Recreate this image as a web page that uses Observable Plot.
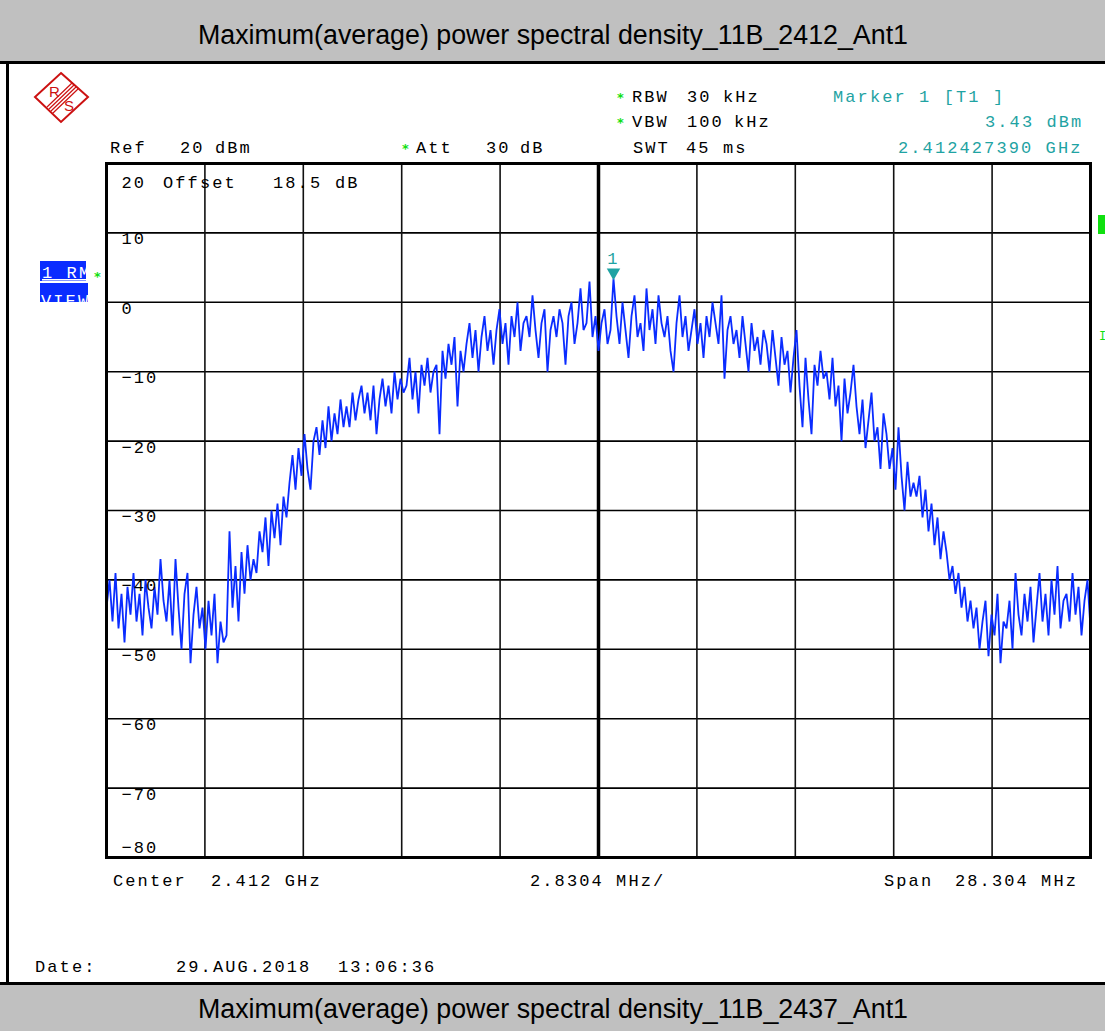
<!DOCTYPE html>
<html>
<head>
<meta charset="utf-8">
<script src="https://cdn.jsdelivr.net/npm/d3@7"></script>
<script src="https://cdn.jsdelivr.net/npm/@observablehq/plot@0.6"></script>
<style>
  html, body { margin: 0; padding: 0; background: #fff; }
  #page { position: relative; width: 1105px; height: 1031px; overflow: hidden; background: #fff; }
  #page > svg { position: absolute; left: 0; top: 0; }
  .rs text { letter-spacing: 2.1px; }
  .mono { font-family: "Liberation Mono", "DejaVu Sans Mono", monospace; font-size: 17px; letter-spacing: 2.1px; white-space: pre; }
  .ttl { font-family: "Liberation Sans", Arial, sans-serif; font-size: 26.8px; }
</style>
</head>
<body>
<div id="page"></div>
<script>
// ---------------- data ----------------
const titleTop = "Maximum(average) power spectral density_11B_2412_Ant1";
const titleBottom = "Maximum(average) power spectral density_11B_2437_Ant1";

const centerGHz = 2.412;
const spanGHz = 0.028304;
const startGHz = 2.397848;
const stopGHz = 2.426152;

// vertical divisions (GHz), one per 2.8304 MHz
const xGrid = [2.397848, 2.4006784, 2.4035088, 2.4063392, 2.4091696, 2.412,
               2.4148304, 2.4176608, 2.4204912, 2.4233216, 2.426152];
// level divisions (dBm)
const yGrid = [20, 10, 0, -10, -20, -30, -40, -50, -60, -70, -80];
const yLabelsMid = [10, 0, -10, -20, -30, -40, -50, -60, -70];
const yLabelTop = [20];
const yLabelBottom = [-80];

const trace = [
  -44, -40, -46, -39, -47, -42, -49, -41, -45, -39,
  -46, -42, -48, -40, -44, -47, -41, -45, -37, -43,
  -46, -40, -48, -37, -44, -50, -42, -39, -52, -45,
  -41, -47, -44, -50, -43, -48, -42, -52, -46, -49,
  -48, -33, -44, -38, -46, -36, -42, -35, -40, -37,
  -39, -33, -36, -31, -38, -30, -34, -29, -35, -28,
  -31, -26, -22, -27, -21, -25, -19, -24, -27, -20,
  -18, -22, -17, -21, -15, -20, -16, -19, -14, -18,
  -15, -18, -13, -17, -14, -12, -16, -13, -17, -12,
  -19, -14, -11, -15, -12, -16, -10, -14, -11, -13,
  -12, -8, -14, -10, -16, -9, -12, -8, -13, -10,
  -9, -19, -7, -11, -6, -9, -5, -15, -7, -10,
  -6, -3, -8, -4, -10, -5, -2, -7, -4, -9,
  -4, -1, -6, -3, -9, -2, -5, 0, -7, -3,
  -2, -5, 1, -4, -8, -3, -1, -10, -4, -2,
  -5, -1, -3, -9, -2, 0, -6, -3, 2, -4,
  -3, 3, -5, -2, -7, -3, -1, -6, -4, 3.43,
  -2, -6, 0, -4, -8, -2, 1, -5, -3, -7,
  2, -4, -1, -6, 1, -3, -5, -2, -7, -10,
  -3, 1, -5, -2, -7, -4, -1, -6, -3, -8,
  -2, -5, 0, -3, -6, 1, -11, -4, -2, -6,
  -4, -8, -2, -6, -10, -3, -7, -5, -9, -4,
  -6, -10, -4, -8, -12, -5, -9, -7, -13, -8,
  -4, -12, -18, -8, -14, -19, -9, -12, -7, -11,
  -10, -14, -8, -15, -12, -20, -11, -16, -13, -9,
  -15, -19, -14, -21, -17, -13, -20, -18, -24, -16,
  -19, -24, -21, -27, -18, -25, -30, -23, -28, -26,
  -28, -25, -31, -27, -33, -29, -35, -31, -37, -33,
  -36, -40, -38, -42, -39, -44, -41, -46, -43, -47,
  -44, -50, -46, -43, -51, -45, -48, -42, -52, -46,
  -47, -43, -50, -39, -45, -48, -42, -46, -41, -49,
  -44, -39, -46, -42, -48, -40, -45, -38, -47, -43,
  -42, -46, -39, -45, -41, -48, -43, -40, -47
];

const markerLabel = "1";

// ---------------- build ----------------
const step = (stopGHz - startGHz) / (trace.length - 1);
const sweep = trace.map((level, i) => ({f: startGHz + i * step, level}));
const peak = sweep.reduce((a, b) => (b.level > a.level ? b : a));

const BLUE = "#0a2cff";
const TEAL = "#1fa3a3";
const GREEN = "#10e010";

const axisOpts = {anchor: "left", tickSize: 0, textAnchor: "start", dx: 24, fill: "#000", label: null};

const chart = Plot.plot({
  width: 1105,
  height: 1031,
  marginLeft: 106,
  marginRight: 15,
  marginTop: 163,
  marginBottom: 174,
  className: "rs",
  style: {background: "transparent", fontFamily: "'Liberation Mono', monospace", fontSize: "17px", color: "#000", overflow: "visible"},
  x: {domain: [startGHz, stopGHz], axis: null},
  y: {domain: [-80, 20], axis: null},
  marks: [
    Plot.gridY(yGrid, {stroke: "#000", strokeOpacity: 1, strokeWidth: 1.6}),
    Plot.gridX(xGrid, {stroke: "#111", strokeOpacity: 1, strokeWidth: 1.6}),
    Plot.gridX([centerGHz], {stroke: "#000", strokeOpacity: 1, strokeWidth: 3.5}),
    Plot.line(sweep, {x: "f", y: "level", stroke: BLUE, strokeWidth: 1.8, strokeLinejoin: "miter"}),
    Plot.axisY(yLabelsMid, {...axisOpts, dy: 6}),
    Plot.axisY(yLabelTop, {...axisOpts, dy: 19}),
    Plot.axisY(yLabelBottom, {...axisOpts, dy: -9.5}),
    Plot.frame({stroke: "#000", strokeWidth: 3}),
    Plot.dot([peak], {x: "f", y: "level", symbol: "triangle", rotate: 180, r: 5, fill: TEAL, stroke: null, dy: -6}),
    Plot.text([peak], {x: "f", y: "level", text: () => markerLabel, fill: TEAL, dy: -20, fontSize: 17})
  ]
});

const page = document.getElementById("page");

// background panel (bands, borders)
const bg = d3.create("svg").attr("width", 1105).attr("height", 1031);
bg.append("rect").attr("x", 0).attr("y", 0).attr("width", 1105).attr("height", 61).attr("fill", "#c0c0c0");
bg.append("rect").attr("x", 0).attr("y", 61).attr("width", 1105).attr("height", 3).attr("fill", "#000");
bg.append("rect").attr("x", 0).attr("y", 985).attr("width", 1105).attr("height", 46).attr("fill", "#c0c0c0");
bg.append("rect").attr("x", 0).attr("y", 982).attr("width", 1105).attr("height", 3).attr("fill", "#000");
bg.append("rect").attr("x", 6).attr("y", 64).attr("width", 3).attr("height", 918).attr("fill", "#000");
bg.append("text").attr("class", "ttl").attr("x", 553).attr("y", 44).attr("text-anchor", "middle").text(titleTop);
bg.append("text").attr("class", "ttl").attr("x", 553).attr("y", 1018).attr("text-anchor", "middle").text(titleBottom);
page.appendChild(bg.node());

page.appendChild(chart);

// overlay annotations
const ov = d3.create("svg").attr("width", 1105).attr("height", 1031);
// R&S logo
const logo = ov.append("g").attr("fill", "none").attr("stroke", "#cc1111");
logo.append("path").attr("d", "M61,73 L88,97 L61,122 L35,97 Z").attr("stroke-width", 2);
[-2, 0, 2, 4].forEach(o => {
  logo.append("line").attr("x1", 74 + o).attr("y1", 85 + o).attr("x2", 49 + o).attr("y2", 109 + o).attr("stroke-width", 1.2);
});
ov.append("text").attr("x", 49).attr("y", 97).attr("fill", "#cc1111").attr("font-family", "Liberation Sans, sans-serif").attr("font-size", 15).text("R");
ov.append("text").attr("x", 64).attr("y", 111).attr("fill", "#cc1111").attr("font-family", "Liberation Sans, sans-serif").attr("font-size", 15).text("S");

function mono(x, y, s, fill = "#000", opts = {}) {
  const t = ov.append("text").attr("class", "mono").attr("x", x).attr("y", y).attr("fill", fill).text(s);
  if (opts.anchor) t.attr("text-anchor", opts.anchor);
  if (opts.clip) t.attr("clip-path", opts.clip);
  return t;
}
function star(x, y) {
  ov.append("text").attr("x", x).attr("y", y).attr("fill", GREEN).attr("font-family", "DejaVu Sans, sans-serif").attr("font-size", 13).attr("font-weight", "bold").text("*");
}
ov.append("clipPath").attr("id", "clipR").append("rect").attr("x", 0).attr("y", 0).attr("width", 1084).attr("height", 1031);

star(617, 102); mono(632, 102, "RBW"); mono(687, 102, "30"); mono(723, 102, "kHz");
star(617, 127); mono(632, 127, "VBW"); mono(687, 127, "100"); mono(734, 127, "kHz");
mono(633, 153, "SWT"); mono(686, 153, "45"); mono(723, 153, "ms");
mono(833, 102, "Marker 1 [T1 ]", TEAL);
mono(985, 127, "3.43 dBm", TEAL, {clip: "url(#clipR)"});
mono(898, 153, "2.412427390 GHz", TEAL);
mono(110, 153, "Ref"); mono(180, 153, "20"); mono(215, 153, "dBm");
star(402, 153); mono(416, 153, "Att"); mono(486, 153, "30"); mono(520, 153, "dB");
mono(163, 188, "Offset"); mono(273, 188, "18.5"); mono(335, 188, "dB");

mono(113, 886, "Center"); mono(211, 886, "2.412 GHz");
mono(530, 886, "2.8304 MHz/");
mono(884, 886, "Span"); mono(955, 886, "28.304 MHz");
mono(35, 972, "Date:"); mono(176, 972, "29.AUG.2018"); mono(338, 972, "13:06:36");

// trace info boxes
ov.append("clipPath").attr("id", "clipB1").append("rect").attr("x", 40).attr("y", 261).attr("width", 46).attr("height", 20);
ov.append("clipPath").attr("id", "clipB2").append("rect").attr("x", 40).attr("y", 283).attr("width", 48).attr("height", 19);
ov.append("rect").attr("x", 40).attr("y", 261).attr("width", 46).attr("height", 20).attr("fill", BLUE);
ov.append("rect").attr("x", 40).attr("y", 283).attr("width", 48).attr("height", 19).attr("fill", BLUE);
mono(42, 278, "1 RM", "#fff", {clip: "url(#clipB1)"});
ov.append("rect").attr("x", 42).attr("y", 279).attr("width", 44).attr("height", 1.5).attr("fill", "#fff");
mono(41, 306, "VIEW", "#fff", {clip: "url(#clipB2)"});
star(94, 281);
// right-edge indicators
ov.append("rect").attr("x", 1098).attr("y", 215).attr("width", 7).attr("height", 19).attr("fill", GREEN);
ov.append("text").attr("x", 1099).attr("y", 340).attr("fill", GREEN).attr("font-family", "Liberation Mono, monospace").attr("font-size", 12).text("I");

page.appendChild(ov.node());
</script>
</body>
</html>
